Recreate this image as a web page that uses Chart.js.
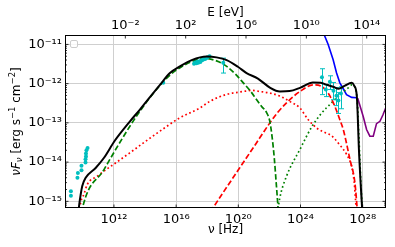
<!DOCTYPE html>
<html>
<head>
<meta charset="utf-8">
<script src="https://cdn.jsdelivr.net/npm/chart.js@4.4.1/dist/chart.umd.min.js"></script>
<style>
  html, body { margin: 0; padding: 0; background: #fff; }
</style>
</head>
<body>
<canvas id="sedChart" width="395" height="247"></canvas>
<script>
// all values are log10(nu / Hz) and log10(nuFnu / erg s^-1 cm^-2)
const totalLogNu = [9.70, 9.76, 9.85, 9.96, 10.18, 10.82, 11.36, 12.06, 13.03, 13.67, 14.30, 14.96, 15.60, 16.24, 17.00, 17.96, 18.60, 19.25, 19.97, 20.53, 21.26, 22.03, 22.68, 23.30, 24.00, 24.80, 25.30, 25.70, 26.10, 26.45, 26.86, 27.29, 27.45, 27.62, 27.68, 27.75, 27.85, 27.97, 28.02];
const totalLogF = [-15.30, -15.10, -14.85, -14.61, -14.40, -14.15, -13.89, -13.45, -12.96, -12.66, -12.35, -12.03, -11.73, -11.56, -11.40, -11.31, -11.33, -11.40, -11.57, -11.73, -11.87, -12.10, -12.20, -12.19, -12.10, -11.97, -11.98, -12.03, -12.08, -12.13, -12.05, -11.98, -12.05, -12.30, -12.80, -13.60, -14.40, -15.20, -15.40];

const syncLogNu = [9.93, 10.00, 11.36, 12.50, 13.50, 14.50, 15.50, 16.30, 17.20, 17.90, 18.60, 19.25, 19.80, 20.32, 20.80, 21.18, 21.50, 21.82, 22.03, 22.20, 22.32, 22.45, 22.60];
const syncLogF = [-15.30, -15.13, -14.19, -13.42, -12.80, -12.26, -11.82, -11.58, -11.41, -11.36, -11.42, -11.56, -11.75, -11.98, -12.20, -12.41, -12.58, -12.74, -12.97, -13.45, -13.93, -14.60, -15.40];

const redDotLogNu = [9.78, 9.85, 10.07, 10.28, 10.93, 11.36, 12.00, 13.00, 14.00, 14.96, 16.24, 17.53, 18.17, 19.20, 20.32, 20.86, 21.39, 22.03, 22.68, 23.30, 23.96, 24.50, 25.10, 25.60, 26.00, 26.50, 26.96, 27.28, 27.45, 27.60];
const redDotLogF = [-15.30, -15.05, -14.82, -14.57, -14.36, -14.23, -14.05, -13.77, -13.48, -13.21, -12.87, -12.62, -12.45, -12.28, -12.20, -12.17, -12.20, -12.24, -12.32, -12.45, -12.62, -12.92, -13.15, -13.25, -13.33, -13.55, -13.80, -14.10, -14.50, -15.30];

const redDashLogNu = [18.20, 19.00, 20.10, 21.00, 22.03, 22.50, 23.10, 23.96, 24.82, 25.30, 25.78, 26.21, 26.53, 26.75, 27.18, 27.50, 27.67];
const redDashLogF = [-15.27, -14.79, -14.14, -13.61, -13.00, -12.75, -12.49, -12.20, -12.03, -12.06, -12.24, -12.58, -12.92, -13.17, -13.93, -14.53, -15.30];

const greenDotLogNu = [22.52, 22.65, 23.10, 23.96, 24.71, 25.36, 26.00, 26.64, 27.07, 27.30, 27.50, 27.65, 27.75, 27.88, 28.00];
const greenDotLogF = [-15.30, -14.95, -14.36, -13.68, -13.11, -12.75, -12.49, -12.24, -12.11, -12.03, -12.10, -12.45, -13.30, -14.50, -15.40];

const blueLogNu = [25.45, 25.52, 25.78, 26.10, 26.32, 26.53, 26.75, 26.96, 27.29, 27.61];
const blueLogF = [-10.60, -10.75, -11.00, -11.39, -11.73, -11.98, -12.13, -12.28, -12.35, -12.36];

const purpleLogNu = [27.68, 28.03, 28.25, 28.46, 28.68, 28.89, 29.11, 29.30, 29.55];
const purpleLogF = [-12.37, -12.83, -13.17, -13.34, -13.34, -13.02, -12.96, -12.80, -12.55];

// observed points
const radioLogNu = [9.23, 9.23, 9.65, 9.68, 9.91, 9.91, 10.17, 10.17, 10.20, 10.20, 10.23, 10.30];
const radioLogF = [-14.74, -14.86, -14.40, -14.28, -14.21, -14.09, -14.01, -13.93, -13.86, -13.78, -13.70, -13.64];

const xrayLogNu = [15.17, 17.15, 17.22, 17.30, 17.36, 17.42, 17.50, 17.56, 17.62, 17.70, 17.78, 17.86, 17.94, 18.02, 18.15];
const xrayLogF = [-11.98, -11.49, -11.46, -11.48, -11.44, -11.47, -11.43, -11.45, -11.41, -11.40, -11.38, -11.37, -11.35, -11.33, -11.30];

const gammaLogNu = [19.03, 25.38, 25.63, 25.89, 26.12, 26.31, 26.44, 26.60];
const gammaLogF = [-11.47, -11.835, -12.15, -11.95, -12.18, -12.31, -12.43, -12.25];
const gammaLogLo = [-11.73, -12.28, -12.33, -12.15, -12.41, -12.56, -12.76, -12.64];
const gammaLogHi = [-11.35, -11.62, -12.03, -11.80, -11.97, -12.10, -12.23, -12.08];

// axis ticks (exponents of 10)
const nuTickExp = [12, 16, 20, 24, 28];
const fluxTickExp = [-15, -14, -13, -12, -11];
const energyTickExp = [-2, 2, 6, 10, 14];

const LOG_NU_MIN = 8.85, LOG_NU_MAX = 29.5;
const LOG_E_MIN = -6.0, LOG_E_MAX = 15.28; // top axis limits as drawn in the figure
const LOG_F_MIN = -15.17, LOG_F_MAX = -10.76;

const CYAN = '#00bfbf';
const FONT = '"DejaVu Sans", sans-serif';

const SUP = { '-': '\u207B', '0': '\u2070', '1': '\u00B9', '2': '\u00B2', '3': '\u00B3', '4': '\u2074', '5': '\u2075', '6': '\u2076', '7': '\u2077', '8': '\u2078', '9': '\u2079' };
const pow10Label = (v) => '10' + String(Math.round(Math.log10(v))).split('').map((c) => SUP[c]).join('');

const pts = (lx, ly) => lx.map((v, i) => ({ x: 10 ** v, y: 10 ** ly[i] }));

function curve(label, lx, ly, color, dash, width, smooth = true) {
  return {
    label,
    data: pts(lx, ly),
    borderColor: color,
    borderWidth: width,
    borderDash: dash,
    borderCapStyle: 'butt',
    pointRadius: 0,
    fill: false,
    cubicInterpolationMode: smooth ? 'monotone' : 'default',
    tension: 0,
    clip: 0,
  };
}

function points(label, lx, ly) {
  return {
    type: 'scatter',
    label,
    data: pts(lx, ly),
    showLine: false,
    pointRadius: 2,
    pointBackgroundColor: CYAN,
    pointBorderWidth: 0,
    clip: 0,
  };
}

const datasets = [
  curve('Total', totalLogNu, totalLogF, '#000000', [], 2),
  points('Radio', radioLogNu, radioLogF),
  points('Optical / X-ray', xrayLogNu, xrayLogF),
  points('Gamma-ray', gammaLogNu, gammaLogF),
  curve('Synchrotron', syncLogNu, syncLogF, '#008000', [5.5, 2.5], 1.7),
  curve('SSC', redDashLogNu, redDashLogF, '#ff0000', [5.5, 2.5], 1.7),
  curve('EC', redDotLogNu, redDotLogF, '#ff0000', [1.7, 2.6], 1.7),
  curve('Second component', greenDotLogNu, greenDotLogF, '#008000', [1.7, 2.6], 1.7),
  curve('Sensitivity', blueLogNu, blueLogF, '#0000ff', [], 1.6, false),
  curve('Sensitivity 2', purpleLogNu, purpleLogF, '#800080', [], 1.6, false),
];
const GAMMA_INDEX = 3;

// error bars, frame, inward ticks, empty legend box and the y title
const sedDecor = {
  id: 'sedDecor',
  beforeDatasetDraw(chart, args) {
    if (args.index !== GAMMA_INDEX) return;
    const { ctx, scales: { x, y } } = chart;
    ctx.save();
    ctx.strokeStyle = CYAN;
    ctx.lineWidth = 1;
    ctx.beginPath();
    gammaLogNu.forEach((lx, i) => {
      const px = Math.round(x.getPixelForValue(10 ** lx)) + 0.5;
      const lo = y.getPixelForValue(10 ** gammaLogLo[i]);
      const hi = y.getPixelForValue(10 ** gammaLogHi[i]);
      ctx.moveTo(px, lo); ctx.lineTo(px, hi);
      ctx.moveTo(px - 2.5, lo); ctx.lineTo(px + 2.5, lo);
      ctx.moveTo(px - 2.5, hi); ctx.lineTo(px + 2.5, hi);
    });
    ctx.stroke();
    ctx.restore();
  },
  afterDraw(chart) {
    const { ctx, chartArea: a, scales: { x, x2, y } } = chart;
    ctx.save();
    ctx.strokeStyle = '#000';
    ctx.lineWidth = 0.8;
    ctx.beginPath();
    for (let e = -16; e <= -10; e++) {
      for (let m = 1; m <= 9; m++) {
        const py = y.getPixelForValue(m * 10 ** e);
        if (py < a.top || py > a.bottom) continue;
        const len = m === 1 ? 3.5 : 2;
        ctx.moveTo(a.left, py); ctx.lineTo(a.left + len, py);
        ctx.moveTo(a.right, py); ctx.lineTo(a.right - len, py);
      }
    }
    nuTickExp.forEach((e) => {
      const px = x.getPixelForValue(10 ** e);
      ctx.moveTo(px, a.bottom); ctx.lineTo(px, a.bottom - 3.5);
    });
    energyTickExp.forEach((e) => {
      const px = x2.getPixelForValue(10 ** e);
      ctx.moveTo(px, a.top); ctx.lineTo(px, a.top + 3.5);
    });
    ctx.stroke();

    ctx.lineWidth = 1;
    ctx.strokeRect(a.left + 0.5, a.top + 0.5, a.right - a.left - 1, a.bottom - a.top - 1);

    // empty legend frame
    ctx.strokeStyle = '#cccccc';
    ctx.fillStyle = 'rgba(255,255,255,0.8)';
    ctx.beginPath();
    ctx.roundRect(a.left + 5.5, a.top + 5.5, 7, 7, 1.5);
    ctx.fill();
    ctx.stroke();

    // y title with sub/superscripts
    const big = 12, small = 8.5;
    const runs = [
      { t: 'ν', f: `italic ${big}px ${FONT}`, dy: 0 },
      { t: 'F', f: `italic ${big}px ${FONT}`, dy: 0 },
      { t: 'ν', f: `italic ${small}px ${FONT}`, dy: 2.5 },
      { t: ' [erg s', f: `${big}px ${FONT}`, dy: 0 },
      { t: '\u22121', f: `${small}px ${FONT}`, dy: -4.5 },
      { t: ' cm', f: `${big}px ${FONT}`, dy: 0 },
      { t: '\u22122', f: `${small}px ${FONT}`, dy: -4.5 },
      { t: ']', f: `${big}px ${FONT}`, dy: 0 },
    ];
    let total = 0;
    runs.forEach((r) => { ctx.font = r.f; r.w = ctx.measureText(r.t).width; total += r.w; });
    ctx.translate(19.5, (a.top + a.bottom) / 2);
    ctx.rotate(-Math.PI / 2);
    ctx.fillStyle = '#000';
    ctx.textBaseline = 'alphabetic';
    let cx = -total / 2;
    runs.forEach((r) => { ctx.font = r.f; ctx.fillText(r.t, cx, r.dy); cx += r.w; });
    ctx.restore();
  },
};

const tickFont = { family: FONT, size: 13 };
const titleFont = { family: FONT, size: 12 };

new Chart(document.getElementById('sedChart'), {
  type: 'line',
  data: { datasets },
  options: {
    responsive: false,
    animation: false,
    layout: { padding: { top: 0, right: 9, bottom: 0, left: 0 } },
    plugins: { legend: { display: false }, tooltip: { enabled: false } },
    scales: {
      x: {
        type: 'logarithmic',
        position: 'bottom',
        min: 10 ** LOG_NU_MIN,
        max: 10 ** LOG_NU_MAX,
        afterBuildTicks: (s) => { s.ticks = nuTickExp.map((e) => ({ value: 10 ** e })); },
        afterFit: (s) => { s.height = 39; },
        ticks: { callback: pow10Label, font: tickFont, color: '#000', padding: 4, maxRotation: 0, autoSkip: false },
        grid: { color: '#cfcfcf', lineWidth: 1, drawTicks: false },
        border: { display: false },
        title: { display: true, text: 'ν [Hz]', font: titleFont, color: '#000', padding: { top: 0, bottom: 10 } },
      },
      x2: {
        type: 'logarithmic',
        position: 'top',
        min: 10 ** LOG_E_MIN,
        max: 10 ** LOG_E_MAX,
        afterBuildTicks: (s) => { s.ticks = energyTickExp.map((e) => ({ value: 10 ** e })); },
        afterFit: (s) => { s.height = 35; },
        ticks: { callback: pow10Label, font: tickFont, color: '#000', padding: 2, maxRotation: 0, autoSkip: false },
        grid: { display: false, drawTicks: false },
        border: { display: false },
        title: { display: true, text: 'E [eV]', font: titleFont, color: '#000', padding: { top: 6, bottom: 0 } },
      },
      y: {
        type: 'logarithmic',
        position: 'left',
        min: 10 ** LOG_F_MIN,
        max: 10 ** LOG_F_MAX,
        afterBuildTicks: (s) => { s.ticks = fluxTickExp.map((e) => ({ value: 10 ** e })); },
        afterFit: (s) => { s.width = 65; },
        ticks: { callback: pow10Label, font: tickFont, color: '#000', padding: 3, autoSkip: false },
        grid: { color: '#cfcfcf', lineWidth: 1, drawTicks: false },
        border: { display: false },
      },
    },
  },
  plugins: [sedDecor],
});
</script>
</body>
</html>
